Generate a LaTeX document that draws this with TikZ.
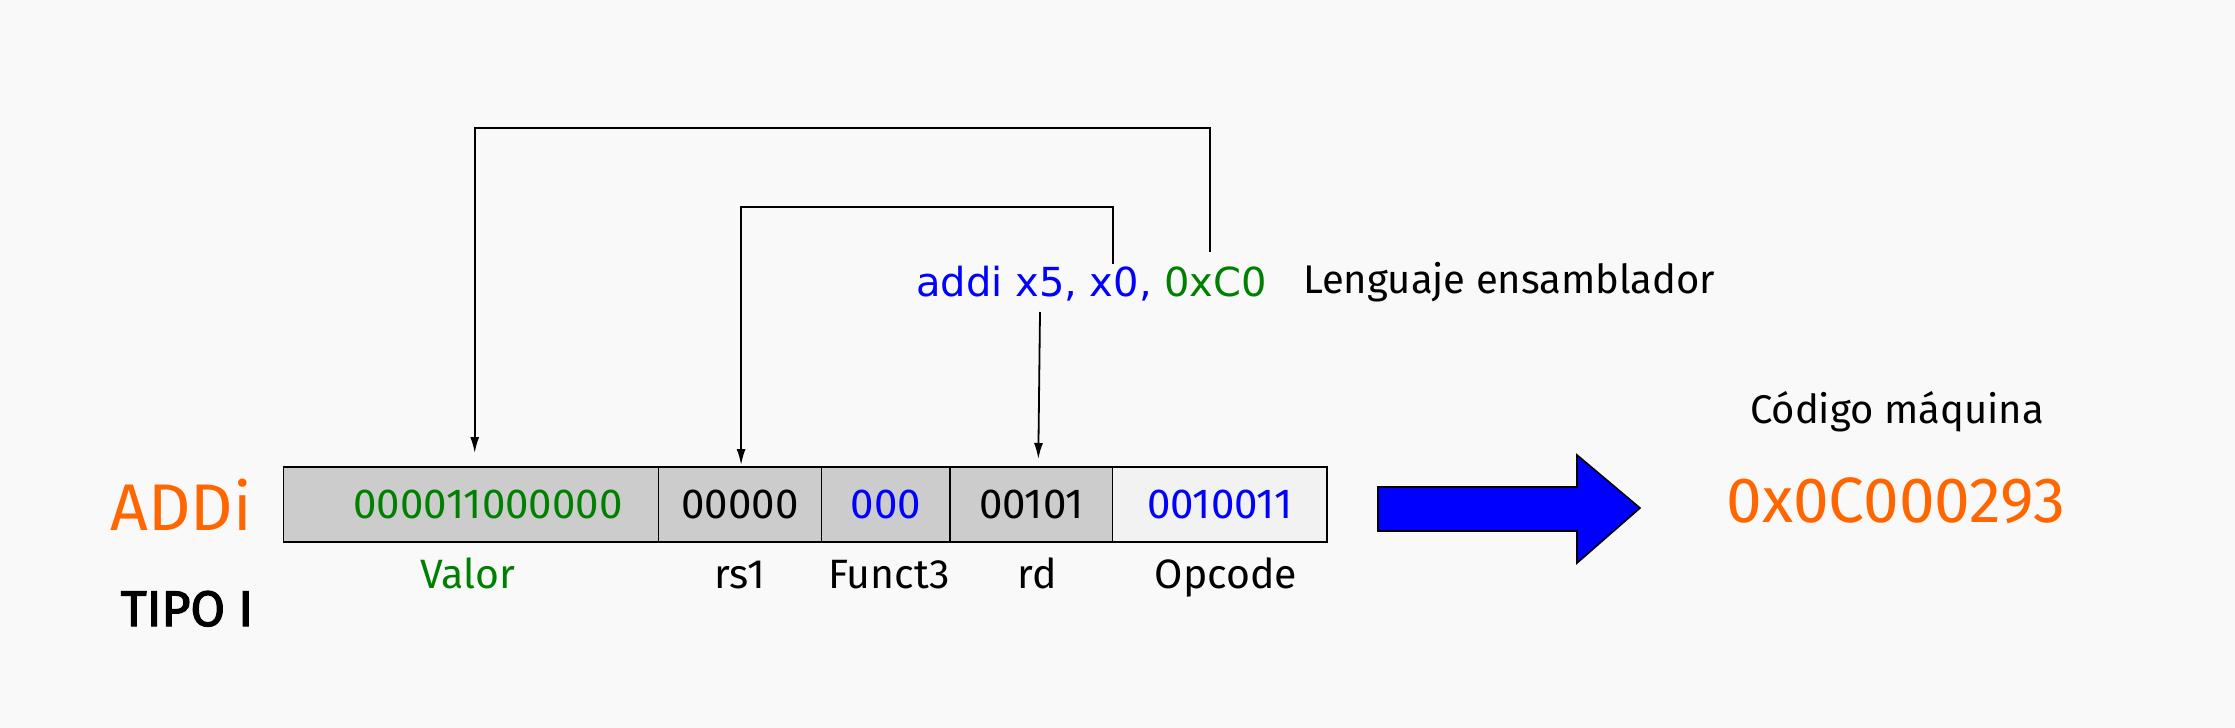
\documentclass[tikz,border=0pt]{standalone}
\usepackage{fontspec}
\setmainfont{Fira Sans}
\newfontfamily\asmfont{DejaVu Sans}
\newfontfamily\tipofont[FakeBold=2.5]{Fira Sans}
\usetikzlibrary{positioning,arrows.meta}
\definecolor{verde}{HTML}{008000}
\definecolor{azul}{HTML}{0000FF}
\definecolor{naranja}{HTML}{FF6600}
\definecolor{fondo}{HTML}{F9F9F9}
\definecolor{celda}{HTML}{CCCCCC}
\definecolor{celdaop}{HTML}{F2F2F2}
\begin{document}
\begin{tikzpicture}[x=1pt,y=-1pt,
  campo/.style={fill=celda,minimum height=75pt,inner sep=0pt,outer sep=0pt,
    font=\fontsize{42}{50}\selectfont},
  etiqueta/.style={anchor=base,inner sep=0pt,font=\fontsize{41}{49}\selectfont},
  flecha/.style={line width=1.8pt,-{Latex[length=16pt,width=9pt]}}]
  % fondo y margenes
  \fill[fondo] (0,0) rectangle (2235,728);
  \useasboundingbox (0,0) rectangle (2235,728);
  % campos de la instruccion tipo I
  \node[campo,minimum width=375pt,anchor=north west,text=verde] (valor) at (283.6,467) {\hspace*{34pt}000011000000};
  \node[campo,minimum width=163pt,right=0pt of valor] (rsuno) {00000};
  \node[campo,minimum width=128.5pt,right=0pt of rsuno,text=azul] (funct) {000};
  \node[campo,minimum width=162.4pt,right=0pt of funct] (rd) {00101};
  \node[campo,minimum width=214.6pt,right=0pt of rd,fill=celdaop,text=azul] (opcode) {0010011};
  % bordes de los campos
  \foreach \c in {valor,rsuno,funct,rd,opcode}
    \draw[line width=1.6pt] (\c.south west) rectangle (\c.north east);
  % nombres de los campos
  \node[etiqueta,text=verde] (lvalor) at (468,588) {Valor};
  \node[etiqueta] (lrsuno) at (740,588) {rs1};
  \node[etiqueta] (lfunct) at (889,588) {Funct3};
  \node[etiqueta] (lrd) at (1037,588) {rd};
  \node[etiqueta] (lopcode) at (1226,588) {Opcode};
  % nombre de la instruccion
  \node[anchor=base,inner sep=0pt,text=naranja,font=\fontsize{66}{74}\selectfont] (addi) at (181,530) {ADDi};
  \node[anchor=base,inner sep=0pt,font=\tipofont\fontsize{50}{58}\selectfont] (tipo) at (187,626) {TIPO I};
  % lenguaje ensamblador
  \node[anchor=base west,inner sep=0pt,font=\asmfont\fontsize{40}{48}\selectfont] (asm) at (916,296)
    {\textcolor{azul}{addi x5, x0,} \textcolor{verde}{0xC0}};
  \node[anchor=base west,inner sep=0pt,font=\fontsize{40}{48}\selectfont] (lasm) at (1303,293) {Lenguaje ensamblador};
  % conexiones del ensamblador a los campos
  \coordinate (immsrc) at (1210,252);
  \coordinate (rssrc) at (1113,264);
  \coordinate (rdsrc) at (1040,312);
  \draw[flecha] (immsrc) -- ++(0,-124) -| ([xshift=3.6pt,yshift=14pt]valor.north);
  \draw[flecha] (rssrc) -- ++(0,-57) -| ([xshift=1pt,yshift=2pt]rsuno.north);
  \draw[flecha] (rdsrc) -- ([xshift=7pt,yshift=8pt]rd.north);
  % flecha de conversion
  \draw[line width=1.6pt,fill=azul] (1378,487) -- (1577,487) -- (1577,455) -- (1640,508)
    -- (1577,563) -- (1577,531) -- (1378,531) -- cycle;
  % codigo maquina
  \node[anchor=base,inner sep=0pt,font=\fontsize{40}{48}\selectfont] (lmaq) at (1897,423) {Código máquina};
  \node[anchor=base,inner sep=0pt,text=naranja,font=\fontsize{64}{72}\selectfont] (maq) at (1896,522) {0x0C000293};
\end{tikzpicture}
\end{document}
